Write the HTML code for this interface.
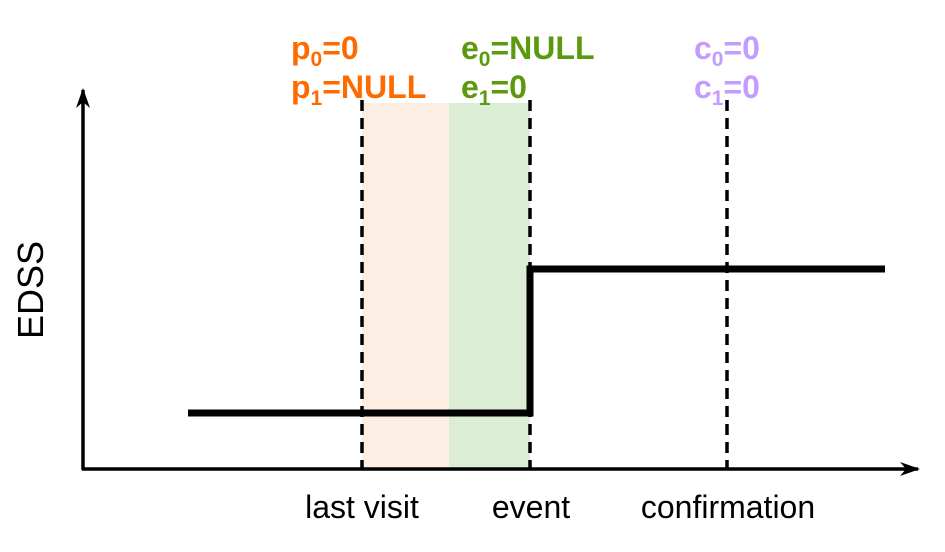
<!DOCTYPE html>
<html><head><meta charset="utf-8"><style>
body{margin:0;background:#fff}
svg{display:block;font-family:"Liberation Sans",sans-serif}
</style></head><body>
<svg id="c" width="945" height="552" viewBox="0 0 945 552">
<defs>
<marker id="ah" viewBox="0 0 20 14" refX="18" refY="7" markerWidth="20" markerHeight="14" markerUnits="userSpaceOnUse" orient="auto"><path d="M0,0 L20,7 L0,14 L6,7 Z" fill="#000"/></marker>
</defs>
<rect x="362" y="103" width="87" height="366" fill="#fdeee3"/>
<rect x="449" y="103" width="81" height="366" fill="#dcedd5"/>
<line x1="83" y1="470" x2="83" y2="90" stroke="#000" stroke-width="3.5" marker-end="url(#ah)"/>
<line x1="82" y1="469" x2="918" y2="469" stroke="#000" stroke-width="3.5" marker-end="url(#ah)"/>
<g id="marks"></g>
<text x="43" y="290" font-size="36" text-anchor="middle" transform="rotate(-90 43 290)">EDSS</text>
<g font-size="32" font-weight="bold">
<text x="291" y="59" fill="#ff6a00">p<tspan font-size="21" dy="7">0</tspan><tspan dy="-7">=0</tspan></text>
<text x="291" y="98" fill="#ff6a00">p<tspan font-size="21" dy="7">1</tspan><tspan dy="-7">=NULL</tspan></text>
<text x="461" y="59" fill="#5a9a0c">e<tspan font-size="21" dy="7">0</tspan><tspan dy="-7">=NULL</tspan></text>
<text x="461" y="98" fill="#5a9a0c">e<tspan font-size="21" dy="7">1</tspan><tspan dy="-7">=0</tspan></text>
<text x="694" y="59" fill="#c29cff">c<tspan font-size="21" dy="7">0</tspan><tspan dy="-7">=0</tspan></text>
<text x="694" y="98" fill="#c29cff">c<tspan font-size="21" dy="7">1</tspan><tspan dy="-7">=0</tspan></text>
</g>
<g font-size="32" text-anchor="middle">
<text x="362" y="518">last visit</text>
<text x="531" y="518">event</text>
<text x="728" y="518">confirmation</text>
</g>
</svg>
<script>
const markerTimes=[362,530,727];
const stepX=[188,530,885];
const stepLevels=[1,2];
function yScale(v){return 413-(v-1)*144;}
const g=document.getElementById('marks');
const ns='http://www.w3.org/2000/svg';
const names=['last-visit-line','event-line','confirmation-line'];
markerTimes.forEach((x,i)=>{
 const l=document.createElementNS(ns,'line');
 l.setAttribute('x1',x);l.setAttribute('x2',x);l.setAttribute('y1',100);l.setAttribute('y2',469);
 l.setAttribute('stroke','#000');l.setAttribute('stroke-width',3.5);l.setAttribute('stroke-dasharray','11 7');
 
 
 g.appendChild(l);
});
let d='';
stepLevels.forEach((v,i)=>{
 const y=yScale(v);
 d+=(i===0?'M':'L')+stepX[i]+','+y+' L'+stepX[i+1]+','+y+' ';
});
const p=document.createElementNS(ns,'path');
p.setAttribute('d',d);p.setAttribute('fill','none');p.setAttribute('stroke','#000');p.setAttribute('stroke-width',7);


g.appendChild(p);
</script>
</body></html>
